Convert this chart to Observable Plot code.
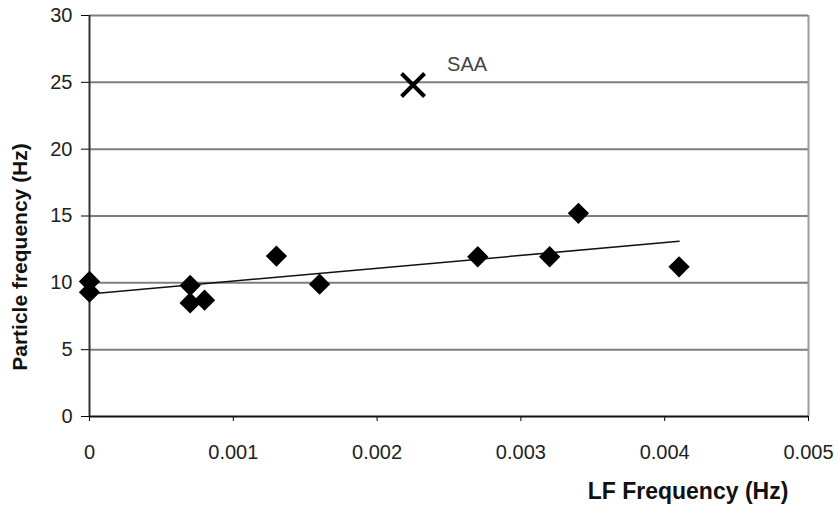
<!DOCTYPE html>
<html>
<head>
<meta charset="utf-8">
<script src="https://cdn.jsdelivr.net/npm/d3@7"></script>
<script src="https://cdn.jsdelivr.net/npm/@observablehq/plot@0.6"></script>
<style>
  html, body { margin: 0; padding: 0; background: #fff; }
  #chart { width: 838px; height: 506px; }
</style>
</head>
<body>
<div id="chart"></div>
<script>
// Data
const lfFrequency = [0, 0, 0.0007, 0.0007, 0.0008, 0.0013, 0.0016, 0.0027, 0.0032, 0.0034, 0.0041];
const particleFrequency = [10.1, 9.3, 9.8, 8.5, 8.7, 12.0, 9.9, 11.95, 11.95, 15.2, 11.2];
const saaX = [0.00225];
const saaY = [24.8];
const saaLabel = ["SAA"];
const xTicks = [0, 0.001, 0.002, 0.003, 0.004, 0.005];
const yTicks = [0, 5, 10, 15, 20, 25, 30];
const xTitle = "LF Frequency (Hz)";
const yTitle = "Particle frequency (Hz)";

const points = lfFrequency.map((x, i) => ({x, y: particleFrequency[i]}));
const saa = saaX.map((x, i) => ({x, y: saaY[i], label: saaLabel[i]}));

const chart = Plot.plot({
  width: 838,
  height: 506,
  marginLeft: 89,
  marginRight: 30,
  marginTop: 15,
  marginBottom: 90,
  style: {fontFamily: "'Liberation Sans', Arial, sans-serif", fontSize: "20px", background: "#fff"},
  x: {domain: [0, 0.005]},
  y: {domain: [0, 30]},
  marks: [
    Plot.ruleY(yTicks.filter(d => d > 0), {stroke: "#7e7e7e", strokeWidth: 2}),
    Plot.ruleX([0.005], {stroke: "#9a9a9a", strokeWidth: 2}),
    Plot.axisY({ticks: yTicks, tickSize: 8, tickPadding: 9, label: null, fontSize: 20, fill: "#222", tickFormat: d => String(d)}),
    Plot.axisX({ticks: xTicks, tickSize: 5, tickPadding: 23, label: null, fontSize: 20, fill: "#222",
      tickFormat: d => d === 0 ? "0" : d3.format(".3f")(d)}),
    Plot.ruleY([0], {stroke: "#111", strokeWidth: 2}),
    Plot.ruleX([0], {stroke: "#333", strokeWidth: 2}),
    Plot.linearRegressionY(points, {x: "x", y: "y", ci: 0, stroke: "#111", strokeWidth: 1.5}),
    Plot.dot(points, {x: "x", y: "y", symbol: "square", r: 8.5, rotate: 45, fill: "#000", stroke: "none"}),
    Plot.dot(saa, {x: "x", y: "y", symbol: "times", r: 10.5, stroke: "#000", strokeWidth: 4}),
    Plot.text(saa, {x: "x", y: "y", text: "label", dx: 34, dy: -20, textAnchor: "start", fontSize: 20, fill: "#444"}),
    Plot.text([yTitle], {text: d => d, frameAnchor: "left", textAnchor: "middle", lineAnchor: "middle", rotate: -90, dx: -69, dy: 41, fontSize: 21, fontWeight: "bold", fill: "#111"}),
    Plot.text([xTitle], {text: d => d, frameAnchor: "bottom", textAnchor: "middle", lineAnchor: "middle", dx: 239, dy: 75, fontSize: 23, fontWeight: "bold", fill: "#111"})
  ]
});
document.getElementById("chart").appendChild(chart);
</script>
</body>
</html>
